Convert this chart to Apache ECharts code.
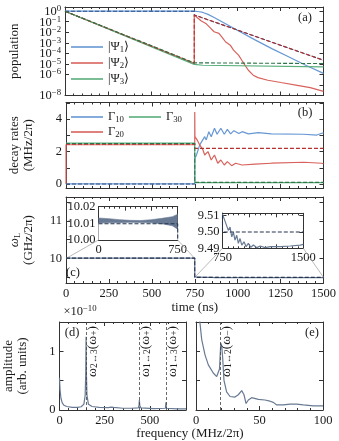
<!DOCTYPE html>
<html>
<head>
<meta charset="utf-8">
<script src="https://cdn.jsdelivr.net/npm/echarts@6/dist/echarts.min.js"></script>
<style>
html, body { margin: 0; padding: 0; background: #fff; }
#chart { width: 339px; height: 441px; }
</style>
</head>
<body>
<div id="chart"></div>
<script>
// ---- data ----
// (a) populations, [time (ns), population]
var popPsi1 = [[0, 1], [750, 1], [780, 0.89], [800, 0.76], [830, 0.5], [860, 0.28], [900, 0.126], [1000, 0.0158],
  [1100, 0.002], [1200, 2.8e-4], [1300, 4.5e-5], [1400, 7.1e-6], [1500, 1.26e-6]];
var popPsi2 = [[0, 1], [750, 1.12e-5], [750, 0.44], [789, 0.126], [817, 0.069], [846, 0.0234], [865, 0.0112],
  [893, 0.0079], [912, 0.0032], [931, 1.26e-3], [959, 6e-4], [978, 2e-4], [1007, 6.8e-5], [1026, 2.2e-5],
  [1044, 7.6e-6], [1064, 2.5e-6], [1092, 8.5e-7], [1120, 5e-7], [1177, 2.8e-7], [1253, 1.7e-7], [1348, 9.3e-8],
  [1423, 5.6e-8], [1500, 2.5e-8]];
var popPsi3 = [[0, 1], [750, 8.9e-6], [800, 7.4e-6], [1500, 5.2e-6]];
var thPsi1 = [[0, 1], [750, 1], [750, 0.44], [1500, 2.2e-5]];
var thPsi2 = [[0, 1], [750, 1.12e-5], [750, 0.44], [1500, 2.2e-5]];
var thPsi3 = [[0, 1], [750, 1.26e-5], [1500, 1.07e-5]];

// (b) decay rates, [time (ns), MHz/2pi]
var gamma10 = [[0, 0], [750, 0], [750, 1.54], [760, 1.79], [779, 2.41], [808, 2.92], [817, 2.72], [832, 3.23],
  [846, 2.92], [865, 3.44], [880, 3.07], [902, 3.44], [922, 3.07], [940, 3.37], [959, 3.09], [978, 3.29],
  [1007, 3.11], [1026, 3.23], [1063, 3.09], [1120, 3.17], [1196, 3.09], [1385, 3.07], [1461, 3.02], [1490, 3.13], [1500, 3.15]];
var gamma20 = [[0, 0], [0, 2.42], [750, 2.42], [750, 4.45], [751, 2.92], [764, 2.72], [779, 2.41], [798, 2.1],
  [808, 1.79], [827, 2.0], [846, 1.48], [865, 1.79], [884, 1.28], [902, 1.48], [922, 1.17], [940, 1.38],
  [965, 1.13], [988, 1.28], [1026, 1.17], [1101, 1.23], [1196, 1.28], [1385, 1.34], [1490, 1.28], [1500, 1.25]];
var gamma30 = [[0, 2.52], [750, 2.52], [750, 0.08], [1500, 0.08]];
var thGamma10 = [[0, 0], [750, 0]];
var thGamma20 = [[0, 2.45], [750, 2.45], [750, 2.2], [1500, 2.2]];
var thGamma30 = [[0, 2.5], [750, 2.5], [750, 0.1], [1500, 0.1]];

// (c) laser frequency, [time (ns), GHz/2pi]
var omegaEarly = [[0, 10.012], [750, 10.011]];
var omegaLate = [[750, 9.511], [757, 9.510], [804, 9.501], [820, 9.503], [836, 9.497], [851, 9.500], [866, 9.495],
  [882, 9.498], [897, 9.493], [913, 9.496], [929, 9.492], [950, 9.494], [969, 9.491], [990, 9.493], [1013, 9.4906],
  [1037, 9.492], [1069, 9.4904], [1099, 9.4914], [1146, 9.4904], [1193, 9.491], [1286, 9.491], [1379, 9.4914],
  [1472, 9.492], [1500, 9.4924]];
var omegaTheory = [[0, 10.0098], [750, 10.0098], [750, 9.5], [1500, 9.5]];
// envelope of the fast oscillation in the first inset
var bandHi = [[0, 10.0132], [100, 10.0128], [200, 10.0122], [300, 10.0118], [400, 10.0117], [500, 10.0122],
  [600, 10.013], [700, 10.014], [750, 10.0155]];
var bandLo = [[0, 10.0102], [100, 10.0103], [200, 10.0104], [300, 10.0106], [400, 10.0105], [500, 10.0103],
  [600, 10.0098], [700, 10.0085], [750, 10.0065]];

// (d), (e) spectra, [frequency (MHz/2pi), amplitude x1e-10]
var specD = [[0, 0.55], [3, 0.35], [8, 0.2], [15, 0.12], [25, 0.08], [40, 0.06], [70, 0.045], [100, 0.045],
  [120, 0.055], [135, 0.1], [142, 0.25], [145, 0.6], [147, 1.25], [149, 0.6], [152, 0.25], [160, 0.1], [180, 0.06],
  [220, 0.045], [270, 0.04], [285, 0.05], [291, 0.065], [300, 0.045], [350, 0.03], [400, 0.03], [436, 0.035],
  [440, 0.08], [442, 0.17], [444, 0.08], [450, 0.035], [520, 0.025], [586, 0.03], [589, 0.13], [592, 0.03],
  [650, 0.02], [700, 0.02]];
var specE = [[2, 1.8], [3.1, 1.49], [4.5, 1.2], [7.1, 0.94], [9.7, 0.77], [13.6, 0.63], [16.3, 0.57], [17.6, 0.54],
  [18.5, 0.7], [19.5, 1.14], [20.2, 1.1], [21, 0.89], [22, 0.51], [24.1, 0.31], [26.8, 0.23], [30.7, 0.22],
  [33.3, 0.26], [36, 0.33], [37.8, 0.26], [39.4, 0.11], [41.2, 0.17], [43.8, 0.21], [49.1, 0.18], [54.3, 0.17],
  [58.3, 0.15], [60.9, 0.13], [63.6, 0.086], [68.9, 0.086], [74, 0.1], [79.3, 0.1], [84.5, 0.086], [92.4, 0.069],
  [100, 0.069]];
var linesD = [147, 442, 590];
var linesDNames = ['{b|ω}{s|2↔3}{b|(ω}{s|+}{b|)}', '{b|ω}{s|1↔2}{b|(ω}{s|+}{b|)}', '{b|ω}{s|1↔3}{b|(ω}{s|+}{b|)}'];
var linesE = [19];
var linesENames = ['{b|ω}{s|1↔2}{b|(ω}{s|−}{b|)}'];

// legend entries
var legendText = {
  psi1: '{b||Ψ}{s|1}{b|⟩}', psi2: '{b||Ψ}{s|2}{b|⟩}', psi3: '{b||Ψ}{s|3}{b|⟩}',
  g10: '{b|Γ}{s|10}', g20: '{b|Γ}{s|20}', g30: '{b|Γ}{s|30}'
};

// ---- style ----
var FONT = "'Liberation Serif', 'DejaVu Serif', serif";
var FRAME = '#333333';
var TXT = '#1a1a1a';
var BLUE = '#6797d4', RED = '#d8625c', GREEN = '#5aae7c';
var BLUE_D = '#2f4f86', RED_D = '#b3312d', GREEN_D = '#2d7448';
var SLATE = '#687a93', SLATE_D = '#26344f';

// rich styles: b = normal text, s = subscript, n/p = base and superscript
function richSet(size) {
  return {
    b: {fontFamily: FONT, fontSize: size, lineHeight: 14, verticalAlign: 'top', color: TXT},
    s: {fontFamily: FONT, fontSize: size * 0.7, lineHeight: 8, verticalAlign: 'bottom', color: TXT},
    n: {fontFamily: FONT, fontSize: size, lineHeight: 14, verticalAlign: 'bottom', color: TXT},
    p: {fontFamily: FONT, fontSize: size * 0.7, lineHeight: 8, verticalAlign: 'top', color: TXT}
  };
}

function pow10Label(v) {
  var e = Math.log(v) / Math.LN10;
  if (Math.abs(e - Math.round(e)) > 1e-6) return '';
  e = Math.round(e);
  return '{n|10}{p|' + (e < 0 ? '−' + (-e) : e) + '}';
}
function fix2(v) { return v.toFixed(2); }
function plain(v) { return String(v); }

// one axis of a panel; every panel gets a mirrored axis so the box has ticks on all sides
function ax(pos, grid, min, max, o) {
  o = o || {};
  return {
    type: o.type || 'value', gridIndex: grid, position: pos, min: min, max: max,
    interval: o.interval,
    axisLine: {show: true, onZero: false, lineStyle: {color: FRAME, width: 1}},
    axisTick: {show: true, inside: true, length: 4, customValues: o.ticks, lineStyle: {color: FRAME, width: 1}},
    minorTick: {show: !!o.minor, splitNumber: o.minor || 5, length: 2, lineStyle: {color: FRAME, width: 1}},
    axisLabel: {show: !!o.labels, customValues: o.labelValues, formatter: o.formatter || plain,
      showMaxLabel: o.showMax, showMinLabel: o.showMin, rich: o.labelRich,
      fontFamily: FONT, fontSize: 12.5, color: TXT, margin: o.margin || 4},
    splitLine: {show: false},
    name: o.name, nameLocation: 'middle', nameGap: o.nameGap,
    nameTextStyle: {fontFamily: FONT, fontSize: 13, color: TXT, lineHeight: 14, rich: o.rich}
  };
}

function line(name, data, xi, color, width, dashed, z) {
  return {
    type: 'line', name: name, data: data, xAxisIndex: xi, yAxisIndex: xi,
    symbol: 'none', animation: false, silent: true, z: z || 2,
    lineStyle: {color: color, width: width || 1.2, type: dashed ? [4, 2] : 'solid'},
    itemStyle: {color: color}
  };
}

function marks(values) {
  return {
    symbol: 'none', silent: true, animation: false,
    lineStyle: {color: '#444', type: [3, 2], width: 0.8},
    label: {show: false},
    data: values.map(function(v) { return {xAxis: v}; })
  };
}

var chart = echarts.init(document.getElementById('chart'), null, {renderer: 'canvas'});

var xAxes = [
  ax('bottom', 0, 0, 1500, {interval: 250, minor: 5}),
  ax('top', 0, 0, 1500, {interval: 250, minor: 5}),
  ax('bottom', 1, 0, 1500, {interval: 250, minor: 5}),
  ax('top', 1, 0, 1500, {interval: 250, minor: 5}),
  ax('bottom', 2, 0, 1500, {interval: 250, minor: 5, labels: true, name: 'time (ns)', nameGap: 17}),
  ax('top', 2, 0, 1500, {interval: 250, minor: 5}),
  ax('bottom', 3, 0, 700, {interval: 250, minor: 5, labels: true, showMax: false}),
  ax('top', 3, 0, 700, {interval: 250, minor: 5}),
  ax('bottom', 4, 0, 100, {interval: 50, minor: 5, labels: true}),
  ax('top', 4, 0, 100, {interval: 50, minor: 5}),
  ax('bottom', 5, 0, 750, {interval: 250, minor: 5, labels: true, labelValues: [0, 750], margin: 3}),
  ax('top', 5, 0, 750, {interval: 250, minor: 5}),
  ax('bottom', 6, 750, 1500, {interval: 250, minor: 5, labels: true, labelValues: [750, 1500], margin: 3}),
  ax('top', 6, 750, 1500, {interval: 250, minor: 5})
];

var yAxes = [
  ax('left', 0, 1e-8, 2.5, {type: 'log', labels: true, formatter: pow10Label, labelRich: richSet(12.5),
    showMin: true, name: 'population', nameGap: 43}),
  ax('right', 0, 1e-8, 2.5, {type: 'log'}),
  ax('left', 1, -0.25, 5.03, {labels: true, labelValues: [0, 2, 4], ticks: [0, 1, 2, 3, 4, 5],
    name: 'decay rates\n(MHz/2π)', nameGap: 30}),
  ax('right', 1, -0.25, 5.03, {ticks: [0, 1, 2, 3, 4, 5]}),
  ax('left', 2, 9.35, 11.63, {labels: true, labelValues: [10, 11], ticks: [9.5, 10, 10.5, 11, 11.5],
    name: '{w|ω}{s|L}\n(GHz/2π)', nameGap: 30,
    rich: {w: {fontFamily: FONT, fontSize: 13, fontStyle: 'italic', color: TXT, lineHeight: 14, verticalAlign: 'top'},
      s: {fontFamily: FONT, fontSize: 8.5, color: TXT, lineHeight: 8, verticalAlign: 'bottom'}}}),
  ax('right', 2, 9.35, 11.63, {ticks: [9.5, 10, 10.5, 11, 11.5]}),
  ax('left', 3, 0, 1.5, {labels: true, labelValues: [0, 1], ticks: [0, 0.5, 1],
    name: 'amplitude\n(arb. units)', nameGap: 30}),
  ax('right', 3, 0, 1.5, {ticks: [0, 0.5, 1]}),
  ax('left', 4, 0, 1.5, {ticks: [0, 0.5, 1]}),
  ax('right', 4, 0, 1.5, {ticks: [0, 0.5, 1]}),
  ax('left', 5, 10, 10.02, {interval: 0.01, labels: true, formatter: fix2, margin: 3}),
  ax('right', 5, 10, 10.02, {interval: 0.01}),
  ax('left', 6, 9.49, 9.5115, {labels: true, labelValues: [9.49, 9.5, 9.51], ticks: [9.49, 9.5, 9.51], formatter: fix2, margin: 3}),
  ax('right', 6, 9.49, 9.5115, {ticks: [9.49, 9.5, 9.51]})
];

var series = [
  // (a)
  line('psi1', popPsi1, 0, BLUE),
  line('psi2', popPsi2, 0, RED),
  line('psi3', popPsi3, 0, GREEN),
  line('th1', thPsi1, 0, BLUE_D, 1.1, true, 3),
  line('th2', thPsi2, 0, RED_D, 1.1, true, 3),
  line('th3', thPsi3, 0, GREEN_D, 1.1, true, 3),
  // (b)
  line('g10', gamma10, 2, BLUE),
  line('g20', gamma20, 2, RED),
  line('g30', gamma30, 2, GREEN),
  line('thg1', thGamma10, 2, BLUE_D, 1.1, true, 3),
  line('thg2', thGamma20, 2, RED_D, 1.1, true, 3),
  line('thg3', thGamma30, 2, GREEN_D, 1.1, true, 3),
  // (c)
  line('omega', omegaEarly.concat(omegaLate), 4, SLATE),
  line('omegaTh', omegaTheory, 4, SLATE_D, 1.1, true, 3),
  // (d), (e)
  Object.assign(line('specD', specD, 6, SLATE), {markLine: marks(linesD)}),
  Object.assign(line('specE', specE, 8, SLATE), {markLine: marks(linesE)}),
  // inset 1: band of the fast oscillation
  Object.assign(line('bandHi', bandHi, 10, SLATE, 0.6), {areaStyle: {color: SLATE, opacity: 1}}),
  Object.assign(line('bandLo', bandLo, 10, SLATE, 0.6), {areaStyle: {color: '#ffffff', opacity: 1}}),
  line('inTh1', omegaTheory, 10, SLATE_D, 1.1, true, 3),
  // inset 2
  line('inLate', omegaLate, 12, SLATE),
  line('inTh2', omegaTheory, 12, SLATE_D, 1.1, true, 3)
];

function legend(names, left, top) {
  return {
    data: names, left: left, top: top, orient: 'vertical', padding: 0,
    icon: 'rect', itemWidth: 32, itemHeight: 1.6, itemGap: 2, selectedMode: false,
    formatter: function(name) { return legendText[name]; },
    textStyle: {fontFamily: FONT, fontSize: 12.5, color: TXT, rich: richSet(12.5)}
  };
}

function label(id, x, y, s, size) {
  return {type: 'text', id: id, x: x, y: y, z: 20, silent: true,
    style: {text: s, font: (size || 12.5) + 'px ' + FONT, fill: TXT, align: 'center', verticalAlign: 'middle',
      rich: richSet(size || 12.5)}};
}

chart.setOption({
  animation: false,
  backgroundColor: '#ffffff',
  grid: [
    {left: 59.5, top: 7, width: 264, height: 88.5},
    {left: 59.5, top: 102.5, width: 264, height: 85.5},
    {left: 59.5, top: 197, width: 264, height: 86},
    {left: 59.5, top: 322, width: 126.5, height: 88},
    {left: 196, top: 322, width: 127, height: 88},
    {left: 98.5, top: 206.7, width: 79.2, height: 33.3, show: true, backgroundColor: '#fff', borderWidth: 0},
    {left: 222.5, top: 213.3, width: 80.8, height: 35, show: true, backgroundColor: '#fff', borderWidth: 0}
  ],
  xAxis: xAxes,
  yAxis: yAxes,
  legend: [
    legend(['psi1', 'psi2', 'psi3'], 71, 40),
    legend(['g10'], 71, 110),
    legend(['g30'], 129, 110),
    legend(['g20'], 71, 125)
  ],
  series: series,
  graphic: [
    label('la', 305, 18, '(a)'),
    label('lb', 305, 113, '(b)'),
    label('lc', 73, 272.5, '(c)'),
    label('ld', 72, 333, '(d)'),
    label('le', 312, 333, '(e)'),
    label('scale', 80, 311, '{n|×10}{p|−10}'),
    label('fname', 190, 434, 'frequency (MHz/2π)', 13)
  ]
});

// gray guide lines from the main trace to the corners of the insets
function px(i, pt) { return chart.convertToPixel({xAxisIndex: i, yAxisIndex: i}, pt); }
var guides = [
  [px(4, [0, 10]), px(10, [0, 10])],
  [px(4, [750, 10]), px(10, [750, 10])],
  [px(4, [750, 9.5]), px(12, [750, 9.49])],
  [px(4, [1500, 9.5]), px(12, [1500, 9.49])]
];
var extra = guides.map(function(g, i) {
  return {type: 'line', id: 'guide' + i, z: 1, silent: true,
    shape: {x1: g[0][0], y1: g[0][1], x2: g[1][0], y2: g[1][1]},
    style: {stroke: '#a8a8a8', lineWidth: 0.8}};
});
// rotated names of the transition lines, just right of each dashed line
function tag(id, axisIdx, f, s) {
  var p = px(axisIdx, [f, 1.5]);
  return {type: 'text', id: id, x: p[0] + 6, y: p[1] + 4, rotation: Math.PI / 2, z: 20, silent: true,
    style: {text: s, rich: richSet(13.5), fill: TXT, align: 'right', verticalAlign: 'middle'}};
}
linesD.forEach(function(f, i) { extra.push(tag('tagD' + i, 6, f, linesDNames[i])); });
linesE.forEach(function(f, i) { extra.push(tag('tagE' + i, 8, f, linesENames[i])); });
chart.setOption({graphic: extra});
</script>
</body>
</html>
